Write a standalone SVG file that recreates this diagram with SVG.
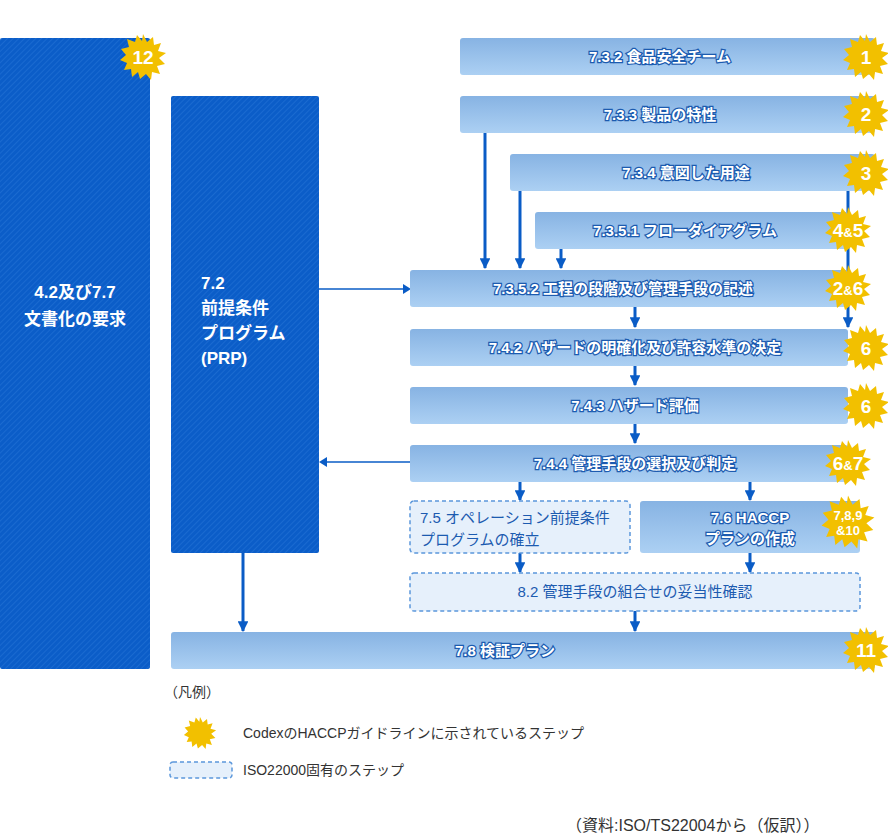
<svg xmlns="http://www.w3.org/2000/svg" width="888" height="835" viewBox="0 0 888 835">
<defs>
<linearGradient id="lg" x1="0" y1="0" x2="0" y2="1"><stop offset="0" stop-color="#87b3e3"/><stop offset="1" stop-color="#acd0f3"/></linearGradient>
<pattern id="hatch" width="4" height="4" patternUnits="userSpaceOnUse" patternTransform="rotate(45)"><rect width="4" height="4" fill="#0b5dc8"/><rect width="1" height="4" fill="#1a6ad0"/></pattern>
<marker id="ah" viewBox="0 0 10 10" refX="9" refY="5" markerWidth="3.6" markerHeight="3.6" orient="auto" markerUnits="strokeWidth"><path d="M0,0L10,5L0,10z" fill="#0a5cc6"/></marker>
<path id="star" d="M0,-23L4,-15L10,-20L11,-12L18,-14L15,-6L23,-4L16,1L22,7L14,9L17,17L9,15L8,23L3,17L-3,22L-5,15L-11,20L-12,12L-19,13L-16,6L-23,3L-17,-2L-22,-8L-14,-10L-16,-18L-8,-15L-6,-22L-1,-16Z" fill="#f2c000"/>
</defs>
<style>
.lb{fill:url(#lg)}
.dk{fill:url(#hatch)}
.ds{fill:#e6f0fb;stroke:#5b97db;stroke-width:1.5;stroke-dasharray:4,3}
.t{font-family:"Liberation Sans","Noto Sans CJK JP",sans-serif;font-size:15px;font-weight:bold;fill:#fff;stroke:#1c5bb0;stroke-width:2.5;paint-order:stroke;text-anchor:middle}
.tw{font-family:"Liberation Sans","Noto Sans CJK JP",sans-serif;font-size:17px;font-weight:bold;fill:#fff}
.tb{font-family:"Liberation Sans","Noto Sans CJK JP",sans-serif;font-size:15px;fill:#1c5bb0;text-anchor:middle}
.tbs{font-family:"Liberation Sans","Noto Sans CJK JP",sans-serif;font-size:15px;fill:#1c5bb0}
.sn{font-family:"Liberation Sans","Noto Sans CJK JP",sans-serif;font-size:19px;font-weight:bold;fill:#fff;text-anchor:middle}
.ss{font-family:"Liberation Sans","Noto Sans CJK JP",sans-serif;font-size:13px;font-weight:bold;fill:#fff;text-anchor:middle}
.lg{font-family:"Liberation Sans","Noto Sans CJK JP",sans-serif;font-size:14px;fill:#333}
.c{stroke:#0a5cc6;stroke-width:3;fill:none}
.c2{stroke:#0a5cc6;stroke-width:1.5;fill:none}
</style>
<g id="connectors">
<line class="c" x1="485" y1="133" x2="485" y2="268" marker-end="url(#ah)"/>
<line class="c" x1="520" y1="191" x2="520" y2="268" marker-end="url(#ah)"/>
<line class="c" x1="561" y1="249" x2="561" y2="268" marker-end="url(#ah)"/>
<line class="c" x1="848" y1="191" x2="848" y2="327" marker-end="url(#ah)"/>
<line class="c" x1="635" y1="307" x2="635" y2="327" marker-end="url(#ah)"/>
<line class="c" x1="635" y1="366" x2="635" y2="385" marker-end="url(#ah)"/>
<line class="c" x1="635" y1="424" x2="635" y2="443" marker-end="url(#ah)"/>
<line class="c" x1="520" y1="482" x2="520" y2="500" marker-end="url(#ah)"/>
<line class="c" x1="750" y1="482" x2="750" y2="500" marker-end="url(#ah)"/>
<line class="c" x1="520" y1="553" x2="520" y2="572" marker-end="url(#ah)"/>
<line class="c" x1="750" y1="553" x2="750" y2="572" marker-end="url(#ah)"/>
<line class="c" x1="635" y1="611" x2="635" y2="631" marker-end="url(#ah)"/>
<line class="c" x1="243" y1="553" x2="243" y2="631" marker-end="url(#ah)"/>
<path class="c2" d="M319,289H404"/><path d="M403,284L411,289L403,294z" fill="#0a5cc6"/>
<path class="c2" d="M410,462H326"/><path d="M327,457L319,462L327,467z" fill="#0a5cc6"/>
</g>
<g id="n12"><rect class="dk" x="0" y="38" width="150" height="631" rx="2"/><text class="tw" x="75" y="298" text-anchor="middle">4.2及び7.7</text><text class="tw" x="75" y="325" text-anchor="middle">文書化の要求</text><use href="#star" x="143" y="57"/><text class="sn" x="143" y="64">12</text></g>
<g id="prp"><rect class="dk" x="171" y="96" width="148" height="457" rx="2"/><text class="tw" x="201" y="289">7.2</text><text class="tw" x="201" y="314">前提条件</text><text class="tw" x="201" y="339">プログラム</text><text class="tw" x="201" y="364">(PRP)</text></g>
<g id="n1"><rect class="lb" x="460" y="38" width="415" height="37" rx="3"/><text class="t" x="660" y="62">7.3.2 食品安全チーム</text><use href="#star" x="866" y="57"/><text class="sn" x="866" y="64">1</text></g>
<g id="n2"><rect class="lb" x="460" y="96" width="415" height="37" rx="3"/><text class="t" x="660" y="120">7.3.3 製品の特性</text><use href="#star" x="866" y="114"/><text class="sn" x="866" y="121">2</text></g>
<g id="n3"><rect class="lb" x="510" y="154" width="365" height="37" rx="3"/><text class="t" x="686" y="178">7.3.4 意図した用途</text><use href="#star" x="866" y="173"/><text class="sn" x="866" y="180">3</text></g>
<g id="n45"><rect class="lb" x="535" y="212" width="313" height="37" rx="3"/><text class="t" x="685" y="236">7.3.5.1 フローダイアグラム</text><use href="#star" x="848" y="230"/><text class="sn" x="848" y="237">4<tspan font-size="13">&amp;</tspan>5</text></g>
<g id="n26"><rect class="lb" x="410" y="270" width="438" height="37" rx="3"/><text class="t" x="623" y="294">7.3.5.2 工程の段階及び管理手段の記述</text><use href="#star" x="848" y="288"/><text class="sn" x="848" y="295">2<tspan font-size="13">&amp;</tspan>6</text></g>
<g id="n742"><rect class="lb" x="410" y="329" width="438" height="37" rx="3"/><text class="t" x="635" y="353">7.4.2 ハザードの明確化及び許容水準の決定</text><use href="#star" x="866" y="348"/><text class="sn" x="866" y="355">6</text></g>
<g id="n743"><rect class="lb" x="410" y="387" width="438" height="37" rx="3"/><text class="t" x="635" y="411">7.4.3 ハザード評価</text><use href="#star" x="866" y="406"/><text class="sn" x="866" y="413">6</text></g>
<g id="n744"><rect class="lb" x="410" y="445" width="438" height="37" rx="3"/><text class="t" x="635" y="469">7.4.4 管理手段の選択及び判定</text><use href="#star" x="848" y="463"/><text class="sn" x="848" y="470">6<tspan font-size="13">&amp;</tspan>7</text></g>
<g id="n75"><rect class="ds" x="410" y="501" width="220" height="52" rx="4"/><text class="tbs" x="420" y="523">7.5 オペレーション前提条件</text><text class="tbs" x="420" y="545">プログラムの確立</text></g>
<g id="n76"><rect class="lb" x="640" y="501" width="220" height="52" rx="3"/><text class="t" x="750" y="523">7.6 HACCP</text><text class="t" x="750" y="544">プランの作成</text><use href="#star" x="848" y="522" transform="translate(848 522) scale(1.15) translate(-848 -522)"/><text class="ss" x="848" y="520">7,8,9</text><text class="ss" x="848" y="535">&amp;10</text></g>
<g id="n82"><rect class="ds" x="410" y="573" width="450" height="38" rx="4"/><text class="tb" x="635" y="597">8.2 管理手段の組合せの妥当性確認</text></g>
<g id="n78"><rect class="lb" x="171" y="632" width="704" height="37" rx="3"/><text class="t" x="505" y="656">7.8 検証プラン</text><use href="#star" x="866" y="650"/><text class="sn" x="866" y="657">11</text></g>
<g id="legend">
<text class="lg" x="164" y="697">（凡例）</text>
<use href="#star" x="200" y="733" transform="translate(200 733) scale(0.7) translate(-200 -733)"/>
<text class="lg" x="243" y="738">CodexのHACCPガイドラインに示されているステップ</text>
<rect class="ds" x="170" y="762" width="62" height="16" rx="3"/>
<text class="lg" x="243" y="775">ISO22000固有のステップ</text>
<text class="lg" x="566" y="831" style="font-size:16px">（資料:ISO/TS22004から（仮訳））</text>
</g>
</svg>
